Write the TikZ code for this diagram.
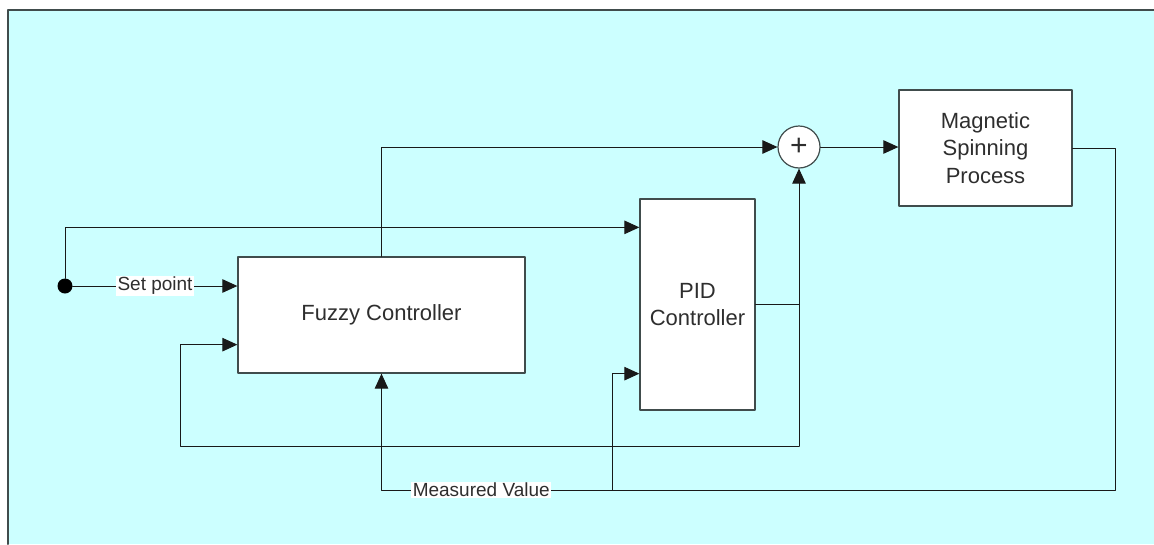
\documentclass[tikz,border=0pt]{standalone}
\usepackage{fontspec}
\setmainfont{Liberation Sans}
\usepackage{tikz}
\usetikzlibrary{arrows.meta}
\definecolor{bgcyan}{rgb}{0.8,1.,1.}
\definecolor{frameg}{rgb}{0.25,0.3,0.3}
\definecolor{txtg}{rgb}{0.18,0.18,0.18}
\tikzset{
  blk/.style={draw=frameg,line width=1.3pt,fill=white,rectangle,align=center,text=txtg,
    font=\fontsize{22}{27.5}\selectfont},
  lbl/.style={fill=white,inner sep=1.5pt,text=txtg,font=\fontsize{19}{23}\selectfont},
  wire/.style={line width=1pt,draw=black!90}
}

\begin{document}
\begin{tikzpicture}[line cap=round,line join=round,>={Triangle[length=15pt,width=13.5pt]},x=1pt,y=-1pt]
\useasboundingbox (0,0) rectangle (1154,544);
\fill [bgcyan] (8,10) rectangle (1154,544);
\draw [line width=2pt,frameg] (8,544)-- (8,10)-- (1154,10);
% blocks
\node [blk,minimum width=287pt,minimum height=116pt] (fuzzy) at (381.5,315) {Fuzzy Controller};
\node [blk,minimum width=115pt,minimum height=211pt] (pid) at (697.5,304.5) {PID\\Controller};
\node [blk,minimum width=173pt,minimum height=116pt] (mag) at (985.5,148) {Magnetic\\Spinning\\Process};
\node [draw=frameg,line width=1.2pt,fill=white,circle,minimum size=42pt,inner sep=0pt,text=txtg,
  font=\fontsize{30}{30}\selectfont] (sum) at (799,147) {+};
\node [fill=black,circle,minimum size=15pt,inner sep=0pt] (src) at (65,286) {};
\coordinate (fb) at (1115,490);
\coordinate (br) at (612,490);
\coordinate (lp) at (799,446);
\coordinate (fl) at (180,446);
% connectors
\draw [wire,->] (src) -- node[lbl] {Set point} (src -| fuzzy.west);
\draw [wire,->] (src) |- ([yshift=-29pt]pid.north west);
\draw [wire,->] (fuzzy.north) |- (sum.west);
\draw [wire,->] (sum.east) -- (sum.east -| mag.west);
\draw [wire,->] (mag.east) -| (fb) -- node[pos=0.864,lbl] {Measured Value} (fuzzy.south |- fb) -- (fuzzy.south);
\draw [wire,->] (br) |- ([yshift=37pt]pid.south west);
\draw [wire] (pid.east) -- (pid.east -| lp);
\draw [wire,->] (lp) -- (sum.south);
\draw [wire,->] (lp) -- (fl) |- ([yshift=29pt]fuzzy.south west);
\end{tikzpicture}
\end{document}
